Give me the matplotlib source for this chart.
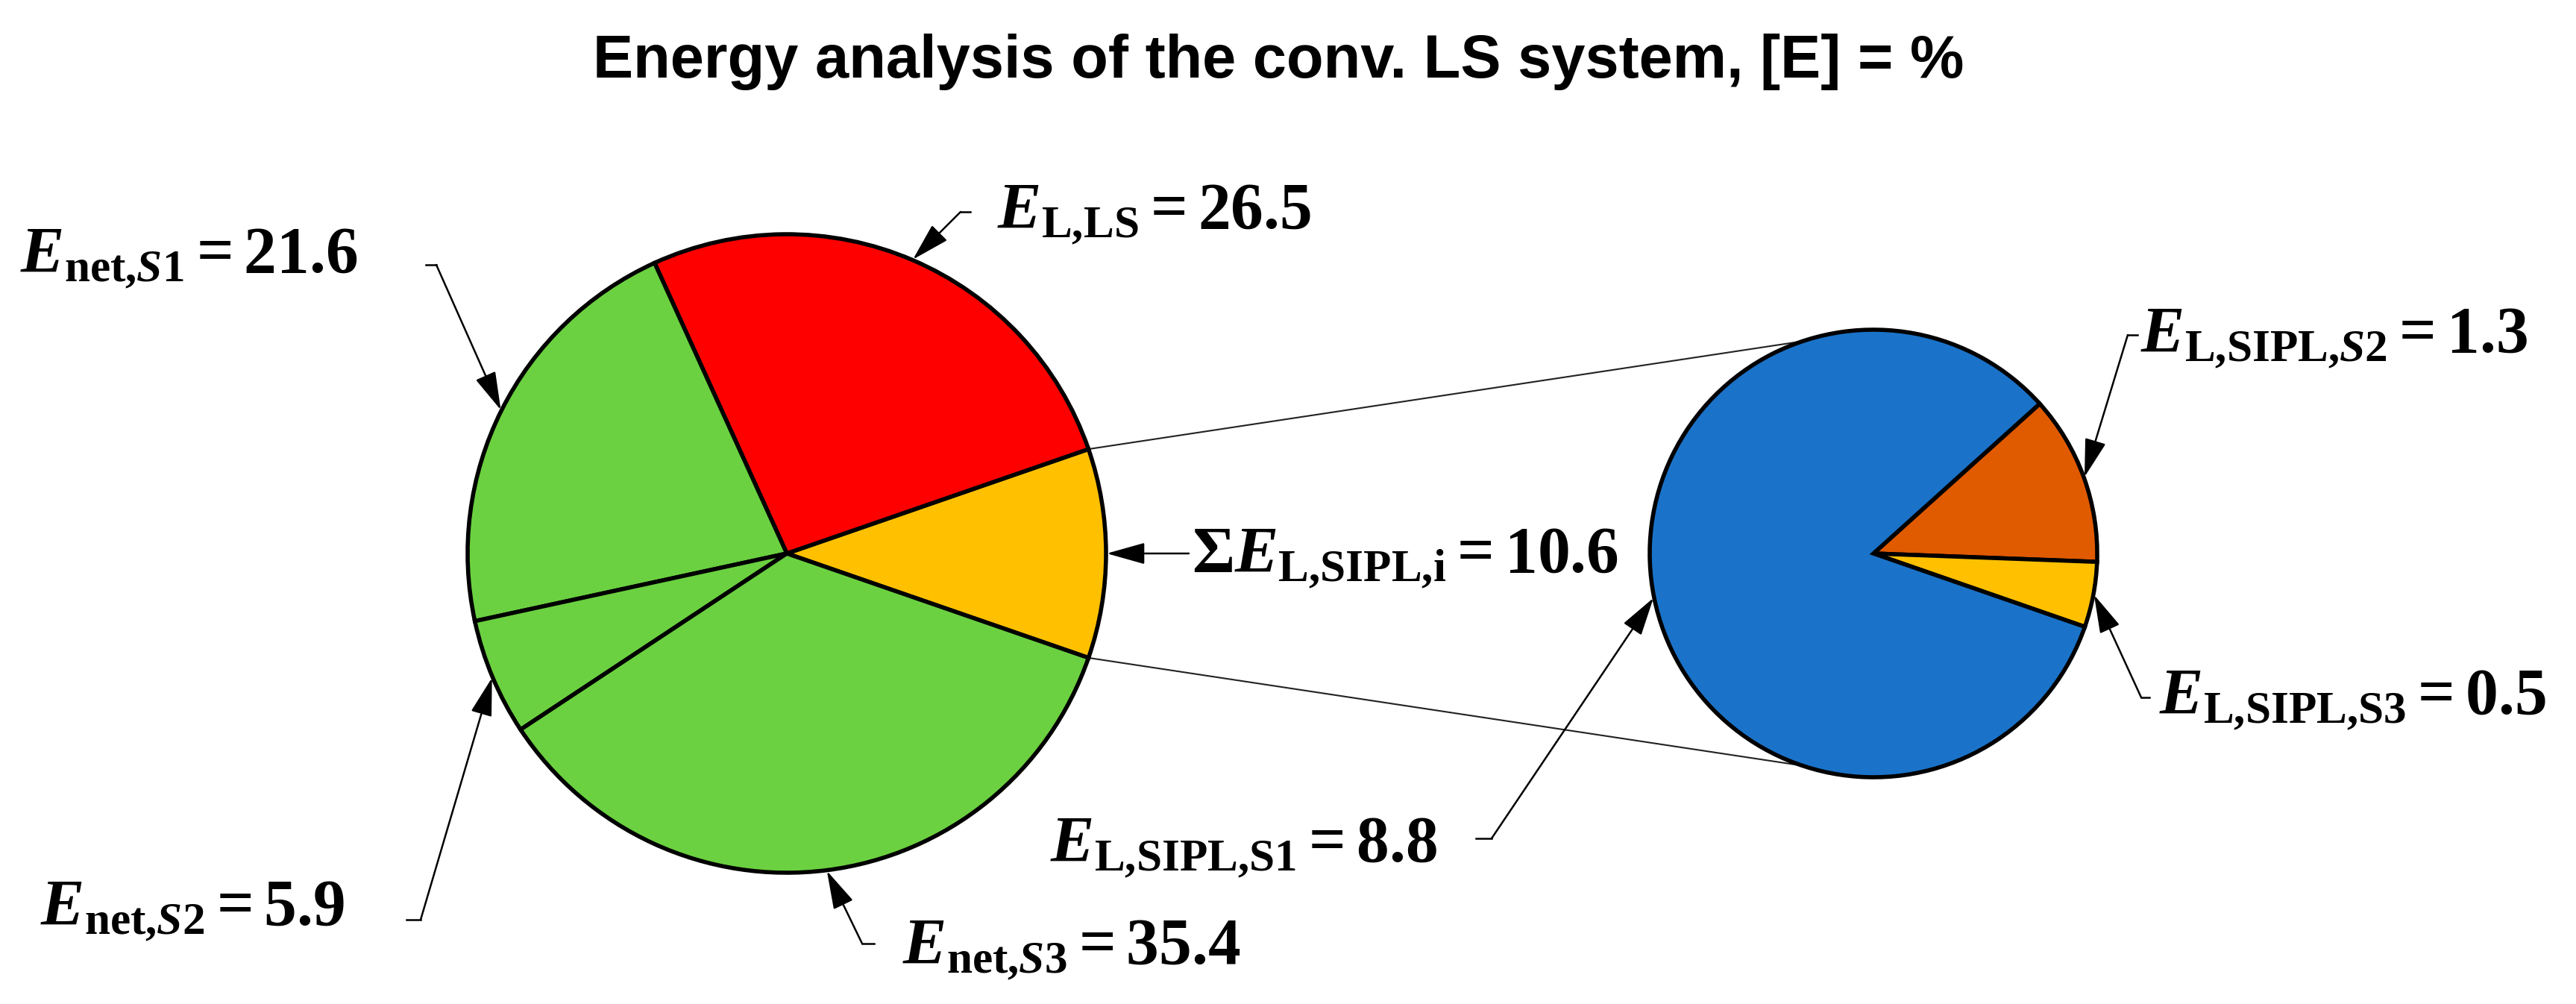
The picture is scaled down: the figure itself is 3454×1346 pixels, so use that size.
import matplotlib
matplotlib.use("Agg")
import matplotlib.pyplot as plt
import numpy as np

plt.rcParams['mathtext.fontset'] = 'custom'
plt.rcParams['mathtext.rm'] = 'Liberation Serif:bold'
plt.rcParams['mathtext.it'] = 'Liberation Serif:italic:bold'
plt.rcParams['mathtext.bf'] = 'Liberation Serif:bold'

# ---------------- data ----------------
title = "Energy analysis of the conv. LS system, [E] = %"

main_names = [r"\Sigma E_{\mathrm{L{,}SIPL{,}i}}", r"E_{\mathrm{L{,}LS}}", r"E_{\mathrm{net{,}}S1}",
              r"E_{\mathrm{net{,}}S2}", r"E_{\mathrm{net{,}}S3}"]
main_values = [10.6, 26.5, 21.6, 5.9, 35.4]
main_colors = ["#FFC000", "#FF0000", "#6BD140", "#6BD140", "#6BD140"]

sub_names = [r"E_{\mathrm{L{,}SIPL{,}}S2}", r"E_{\mathrm{L{,}SIPL{,}S3}}", r"E_{\mathrm{L{,}SIPL{,}S1}}"]
sub_values = [1.3, 0.5, 8.8]
sub_colors = ["#E05A00", "#FFC000", "#1A73C9"]

# ---------------- layout ----------------
W, H = 3455, 1346
fig = plt.figure(figsize=(W / 100, H / 100), dpi=100)
ax = fig.add_axes([0, 0, 1, 1])

big_c, big_r = (1055, 604), 428
small_c, small_r = (2512, 604), 300
edge_kw = dict(edgecolor="black", linewidth=4)

big_start = -main_values[0] / sum(main_values) * 180
big_wedges, _ = ax.pie(main_values, colors=main_colors, startangle=big_start,
                       center=big_c, radius=big_r, wedgeprops=edge_kw, frame=True)
small_wedges, _ = ax.pie(sub_values, colors=sub_colors, startangle=42, counterclock=False,
                         center=small_c, radius=small_r, wedgeprops=edge_kw, frame=True)

ax.set_xlim(0, W)
ax.set_ylim(0, H)
ax.set_aspect("equal")
ax.axis("off")


def edge_point(center, r, ang):
    a = np.deg2rad(ang)
    return (center[0] + r * np.cos(a), center[1] + r * np.sin(a))


def mid_angle(w):
    return 0.5 * (w.theta1 + w.theta2)


# connector lines between the pies
t1, t2 = big_wedges[0].theta1, big_wedges[0].theta2
for a_big, a_small in [(t2, 108.5), (t1, -108.5)]:
    p1 = edge_point(big_c, big_r, a_big)
    p2 = edge_point(small_c, small_r, a_small)
    ax.plot([p1[0], p2[0]], [p1[1], p2[1]], color="#222222", lw=1.5, zorder=0.5)

FS = 63
arrow_kw = dict(arrowstyle="-|>,head_length=1.6,head_width=0.45", mutation_scale=20,
                color="black", lw=1.8, shrinkA=0, shrinkB=0)


def leader(center, r, wedge, corner, tick_end, text, text_pos):
    tip = edge_point(center, r + 1, mid_angle(wedge))
    if tick_end is not None:
        ax.plot([corner[0], tick_end[0]], [corner[1], tick_end[1]], color="black", lw=1.8)
    ax.annotate("", xy=tip, xytext=corner, arrowprops=arrow_kw)
    ax.text(text_pos[0], text_pos[1], text, fontsize=FS, ha="left", va="baseline")


def lab(name, v):
    return rf"${name} = {v}$"


# big pie labels: [sum, LS, S1, S2, S3]
leader(big_c, big_r, big_wedges[0], (1594, 604), None, lab(main_names[0], main_values[0]), (1598, 579))
leader(big_c, big_r, big_wedges[1], (1288, 1062), (1301, 1062), lab(main_names[1], main_values[1]), (1337, 1040))
leader(big_c, big_r, big_wedges[2], (585, 991), (571, 991), lab(main_names[2], main_values[2]), (27, 981))
leader(big_c, big_r, big_wedges[3], (564, 113), (545, 113), lab(main_names[3], main_values[3]), (54, 106))
leader(big_c, big_r, big_wedges[4], (1156, 81), (1172, 81), lab(main_names[4], main_values[4]), (1210, 54))

# small pie labels: [S2, S3, S1]
leader(small_c, small_r, small_wedges[0], (2853, 897), (2866, 897), lab(sub_names[0], sub_values[0]), (2870, 874))
leader(small_c, small_r, small_wedges[1], (2871, 411), (2882, 411), lab(sub_names[1], sub_values[1]), (2895, 389))
leader(small_c, small_r, small_wedges[2], (2000, 222), (1979, 222), lab(sub_names[2], sub_values[2]), (1408, 191))

ax.text(1714, 1242, title, ha="center", va="baseline", fontsize=58.5,
        fontweight="bold", family="Liberation Sans")

fig.savefig("out.png", dpi=100, facecolor="white")
